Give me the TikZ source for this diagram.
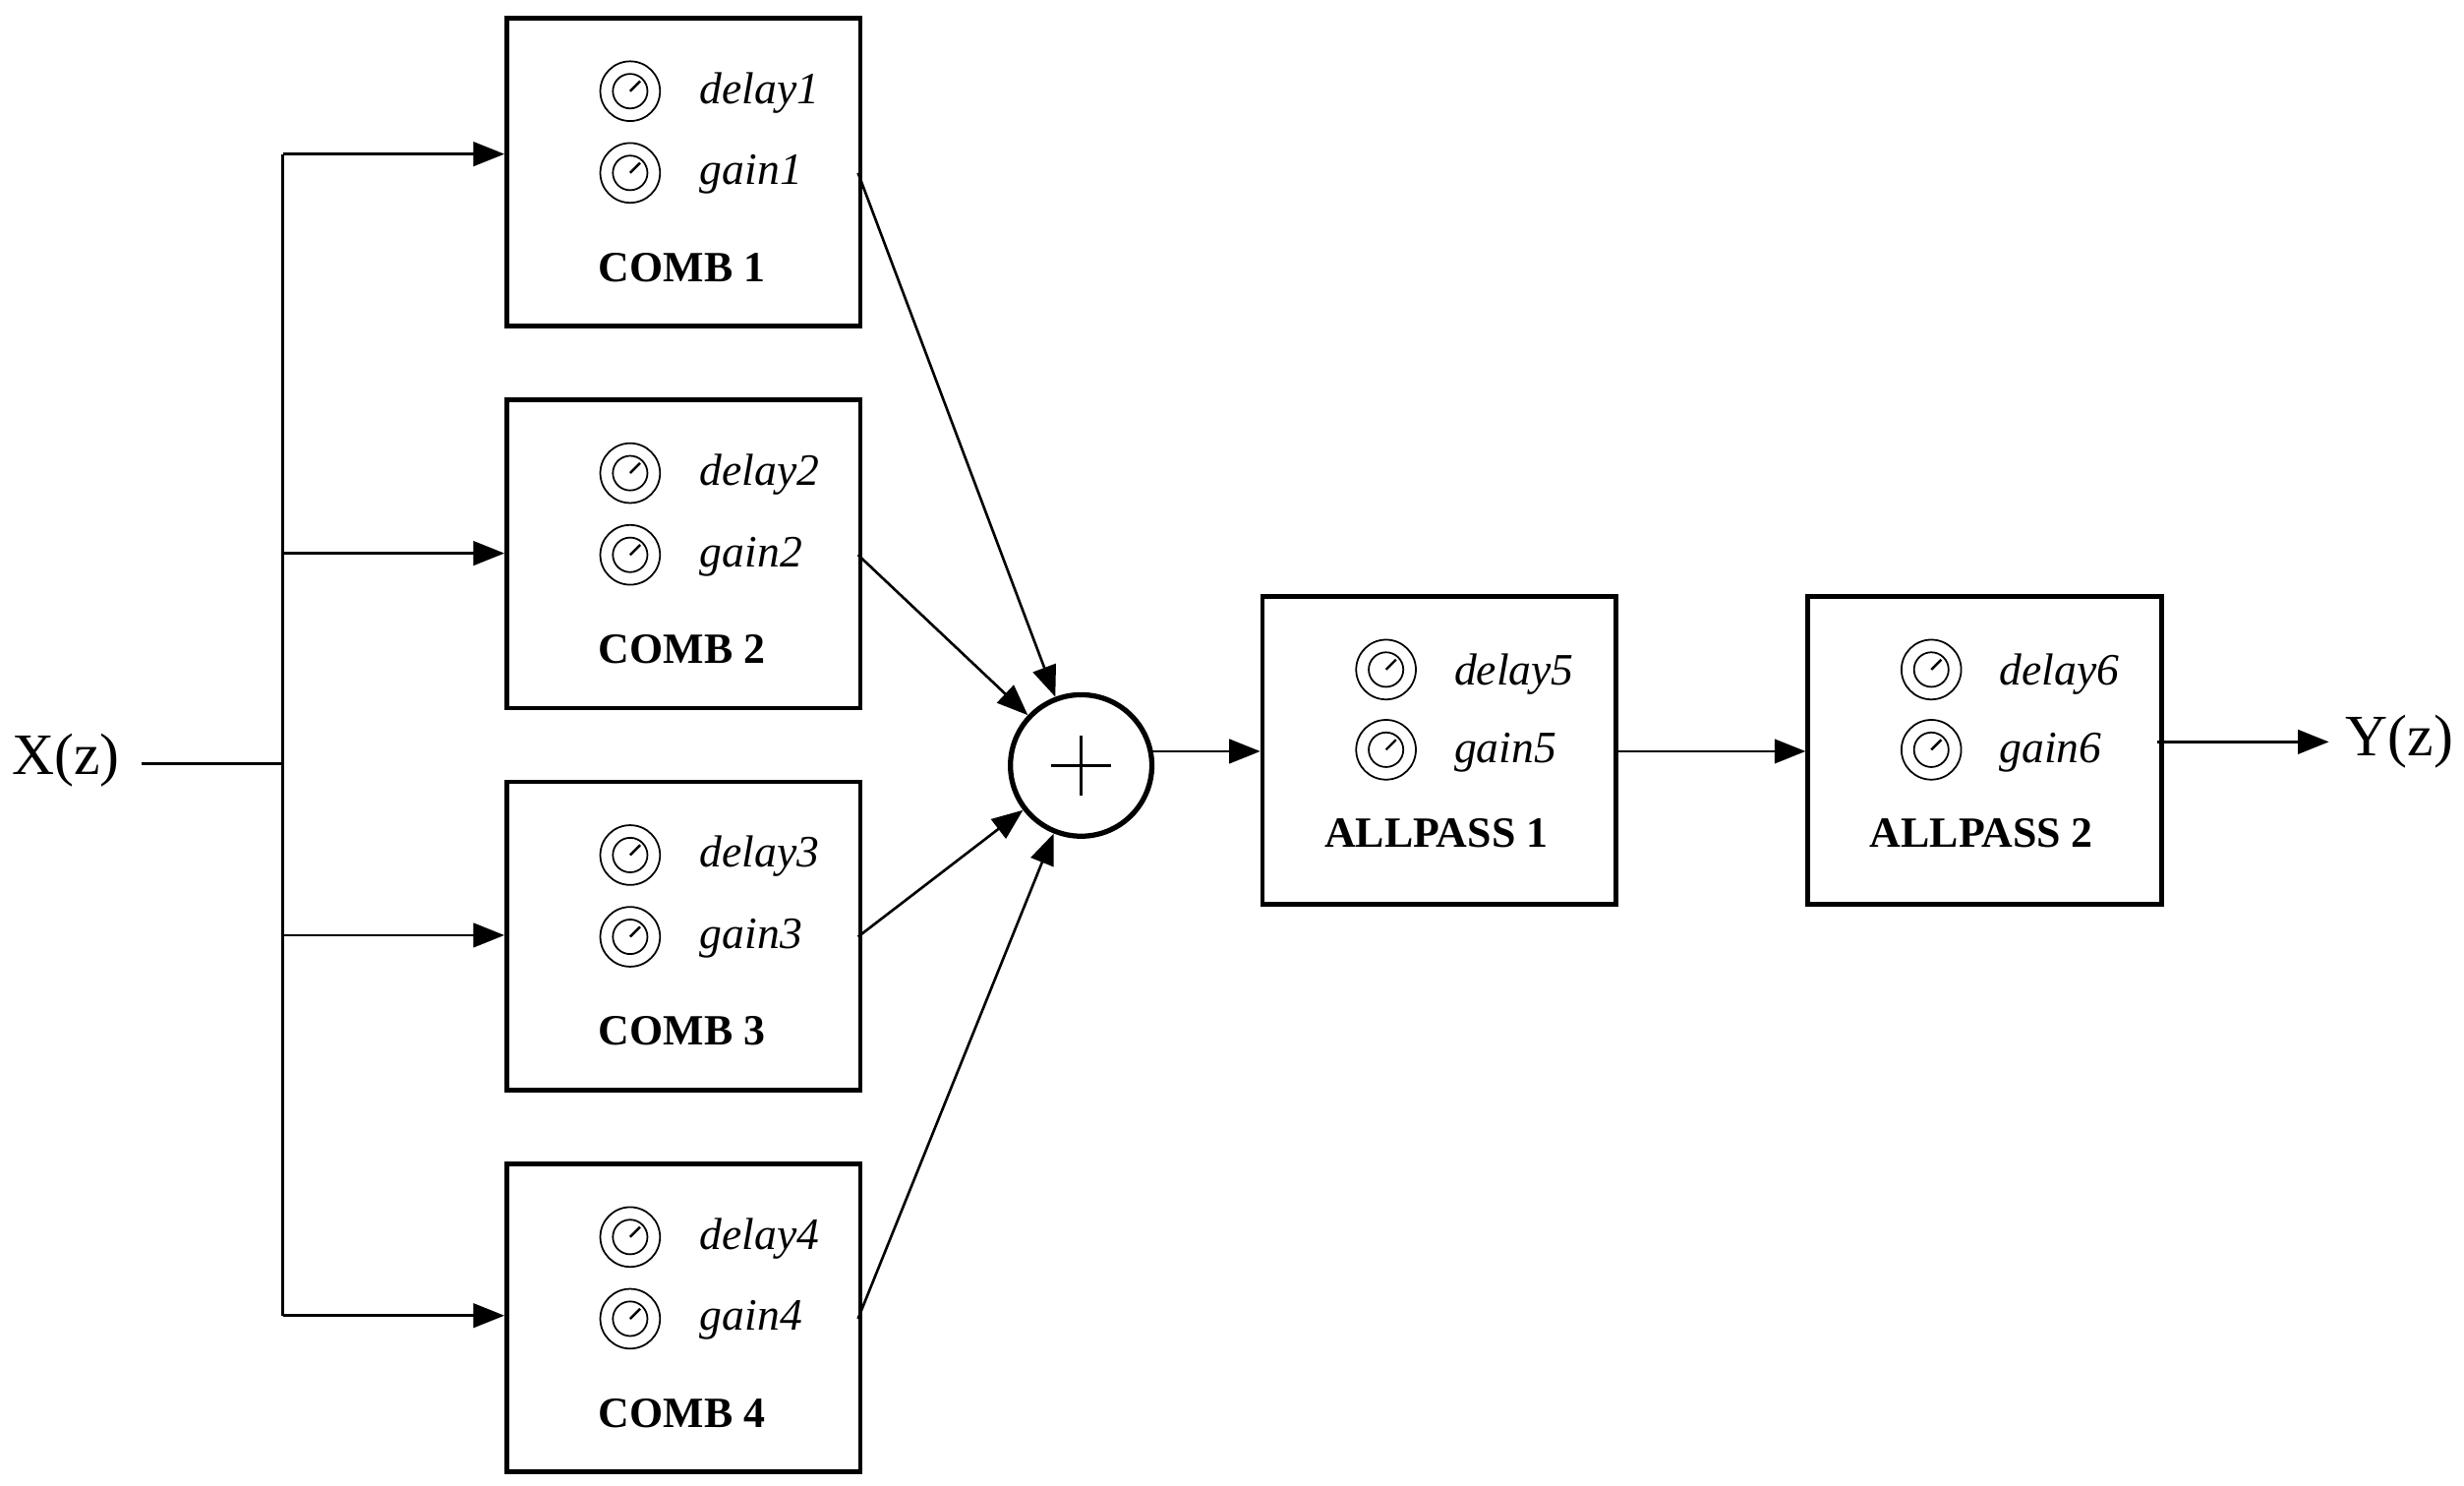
\documentclass[tikz,border=0pt]{standalone}
\usepackage{fontspec}
\setmainfont{Liberation Serif}
\usetikzlibrary{arrows.meta,calc}
\begin{document}
\begin{tikzpicture}[x=0.016cm,y=-0.016cm,
  box/.style={draw,line width=1.3pt,minimum width=225*0.016cm,minimum height=196*0.016cm,anchor=north west,inner sep=0pt},
  ln/.style={line width=0.75pt},
  arr/.style={ln,-{Triangle[length=9pt,width=7pt]}},
  lab/.style={font=\fontsize{13}{15}\selectfont\itshape,anchor=west,inner sep=0pt},
  ttl/.style={font=\fontsize{12.5}{14}\selectfont\bfseries,inner sep=0pt},
  knob/.pic={\draw[line width=0.5pt] (0,0) circle[radius=19] (0,0) circle[radius=11];
             \draw[line width=0.7pt] (0,0) -- (-45:9);}]
\useasboundingbox (0,0) rectangle (1568,945);
% combs
\foreach \i/\t/\a in {1/10/98,2/253/352,3/496/595,4/739/837}{
  \node[box] (c\i) at (321,\t) {};
  \pic at (401,\t+48) {knob};
  \pic at (401,\t+100) {knob};
  \node[lab] (d\i) at (445,\t+49) {delay\i};
  \node[lab] (g\i) at (445,\t+101) {gain\i};
  \node[ttl] (t\i) at (434,\t+160) {COMB \i};
  \coordinate (ci\i) at (321,\a);
  \coordinate (co\i) at (546,\t+100);
}
% allpass
\foreach \i/\x/\n in {1/802/5,2/1149/6}{
  \node[box] (a\i) at (\x,378) {};
  \pic at (\x+80,426) {knob};
  \pic at (\x+80,477) {knob};
  \node[lab] (ad\i) at (\x+123,429) {delay\n};
  \node[lab] (ag\i) at (\x+123,479) {gain\n};
  \node[ttl] (at\i) at (\x+112,530) {ALLPASS \i};
}
\node[draw,circle,line width=1.5pt,minimum size=90*0.016cm,inner sep=0pt] (sum) at (688,487) {};
\draw[line width=0.9pt] (669,487) -- (707,487) (688,468) -- (688,506);
\node[font=\fontsize{17}{20}\selectfont,inner sep=0pt] (x) at (42,484) {X(z)};
\node[font=\fontsize{17}{20}\selectfont,inner sep=0pt] (y) at (1527,472) {Y(z)};
\coordinate (xs) at (90,486);
\coordinate (br) at (180,486);
\draw[ln] (xs) -- (br);
\draw[ln] (180,98) -- (180,837);
\foreach \i in {1,2,3,4}{\draw[arr] (ci\i -| br) -- (ci\i);}
\foreach \i in {1,2,3,4}{\draw[arr] (co\i) -- (sum);}
\coordinate (s1) at (733,478);
\draw[arr] (s1) -- (s1 -| a1.west);
\coordinate (s2) at (1027,478);
\draw[arr] (s2) -- (s2 -| a2.west);
\coordinate (s3) at (1373,472);
\draw[arr] (s3) -- (1482,472);
\end{tikzpicture}
\end{document}
